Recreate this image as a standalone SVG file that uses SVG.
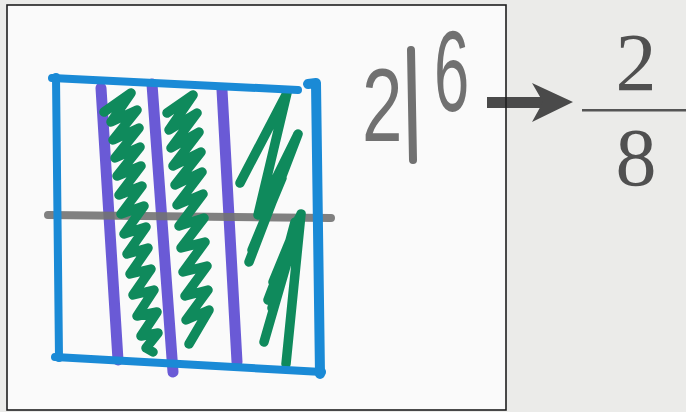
<svg xmlns="http://www.w3.org/2000/svg" width="686" height="412" viewBox="0 0 686 412">
<style>
.pen{fill:none;stroke-linecap:round;stroke-linejoin:round}
.blue{stroke:#1a8ad6;stroke-width:8}
.purple{stroke:#6a5ad6;stroke-width:11}
.green{stroke:#0f8a5c;stroke-width:9.5}
.gray{stroke:#727272;stroke-width:8;opacity:0.9}
.frac{font-family:"Liberation Serif","Times New Roman",serif;font-size:82px;fill:#505050;text-anchor:middle}
.hand{font-family:"Liberation Sans",Arial,sans-serif;fill:#717171}
</style>
<rect width="686" height="412" fill="#ebebe9"/>
<g id="photo">
<rect x="7" y="5" width="499" height="405" fill="#fafafa"/>
</g>
<g id="sketch">
<g class="pen">
<path class="purple" d="M101,88 L118,360"/>
<path class="purple" d="M152,84 L173,372"/>
<path class="purple" d="M222,90 L237,362"/>
<path class="gray" d="M48,215 L331,218"/>
<polyline class="green" points="104,112 131,93 111,122 137,110 113,140 139,128 115,158 140,147 117,176 141,166 119,195 142,186 121,214 144,206 124,234 146,227 127,254 148,248 130,274 151,269 133,295 154,290 137,316 157,312 141,336 158,333 146,348 153,352"/>
<polyline class="green" points="167,113 193,95 169,130 197,113 171,148 199,132 173,166 201,152 175,185 202,172 177,205 203,194 179,226 204,218 181,248 205,242 183,272 207,266 185,296 208,290 186,320 209,310 189,344"/>
<path class="green" d="M240,183 L287,93 L258,215 L298,134 L249,262 M252,250 L282,178 M273,282 L301,214 L264,342 M301,214 L286,364 M295,222 L272,308 M268,300 L299,218"/>
<path class="blue" d="M52,78 L298,90"/>
<path class="blue" d="M56,77 L59,358"/>
<path class="blue" d="M55,357 L322,372"/>
<path class="blue" d="M308,84 L316,83 L320,374" style="stroke-width:10"/>
</g>
</g>
<g id="label-2-6">
<text class="hand" font-size="104" transform="translate(362,141) scale(0.7,1)">2</text>
<path d="M411,50 L413,160" fill="none" stroke="#717171" stroke-width="8" stroke-linecap="round"/>
<text class="hand" font-size="115" transform="translate(434,111) scale(0.55,1)">6</text>
</g>
<g id="connectors">
<rect x="487" y="97" width="58" height="11" fill="#4a4a4a"/>
<polygon points="532,83 573,102 532,122 543,102" fill="#4a4a4a"/>
</g>
<g id="photo-border">
<rect x="7" y="5" width="499" height="405" fill="none" stroke="#1e1e1e" stroke-width="1.6"/>
</g>
<g id="fraction">
<text class="frac" x="636" y="90">2</text>
<rect x="582" y="109" width="104" height="2.5" fill="#555"/>
<text class="frac" x="636" y="185">8</text>
</g>
</svg>
